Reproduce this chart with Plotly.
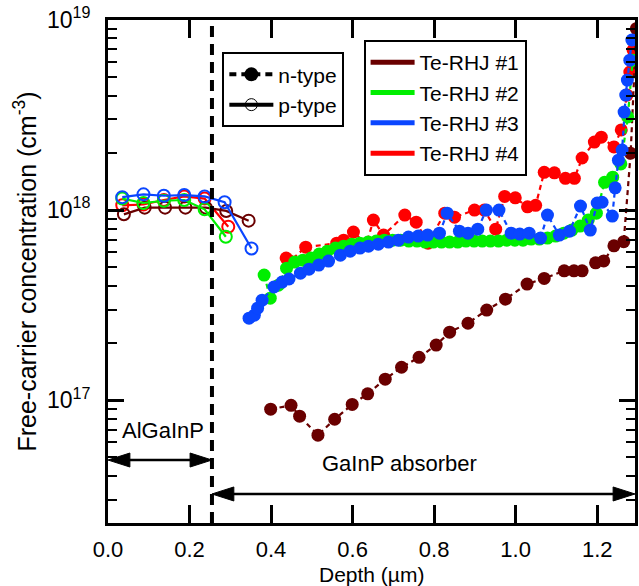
import plotly.graph_objects as go

FONT = "Arial, Liberation Sans, sans-serif"

SAMPLES = ["Te-RHJ #1", "Te-RHJ #2", "Te-RHJ #3", "Te-RHJ #4"]
COLORS = ["#6a0000", "#00ee00", "#0a46ff", "#ff0000"]

# ---- p-type profiles (AlGaInP window side), depth in um, carriers in cm^-3
p_depth_1 = [0.039, 0.090, 0.140, 0.190, 0.240, 0.290, 0.345]
p_conc_1 = [9.5e17, 1.03e18, 1.03e18, 1.03e18, 1.03e18, 9.9e17, 8.8e17]
p_depth_2 = [0.035, 0.087, 0.137, 0.187, 0.237, 0.289]
p_conc_2 = [1.15e18, 1.09e18, 1.12e18, 1.13e18, 1.01e18, 7.24e17]
p_depth_3 = [0.035, 0.087, 0.137, 0.187, 0.237, 0.286, 0.352]
p_conc_3 = [1.17e18, 1.21e18, 1.19e18, 1.20e18, 1.18e18, 1.10e18, 6.28e17]
p_depth_4 = [0.035, 0.087, 0.137, 0.187, 0.237, 0.295]
p_conc_4 = [1.06e18, 1.07e18, 1.13e18, 1.18e18, 1.15e18, 8.17e17]

# ---- n-type profiles (GaInP absorber side)
n_depth_1 = [0.399, 0.449, 0.470, 0.515, 0.556, 0.599, 0.637, 0.680, 0.720,
             0.763, 0.805, 0.838, 0.883, 0.929, 0.975, 1.028, 1.070, 1.119,
             1.143, 1.163, 1.196, 1.216, 1.241, 1.265, 1.282, 1.296]
n_conc_1 = [8.97e16, 9.4e16, 8.24e16, 6.55e16, 7.94e16, 9.5e16, 1.08e17, 1.29e17,
            1.49e17, 1.68e17, 1.95e17, 2.28e17, 2.54e17, 2.98e17, 3.4e17, 4.08e17,
            4.37e17, 4.79e17, 4.79e17, 4.79e17, 5.28e17, 5.4e17, 6.49e17, 6.82e17,
            1.99e18, 9.0e18]

n_depth_2 = [0.383, 0.398, 0.418, 0.438, 0.458, 0.478, 0.498, 0.518, 0.538,
             0.558, 0.578, 0.598, 0.618, 0.638, 0.658, 0.678, 0.698, 0.718,
             0.738, 0.758, 0.778, 0.798, 0.818, 0.838, 0.858, 0.878, 0.898,
             0.918, 0.938, 0.958, 0.978, 0.998, 1.018, 1.038, 1.058, 1.078,
             1.098, 1.118, 1.138, 1.158, 1.178, 1.198, 1.218, 1.238, 1.258,
             1.275, 1.287]
n_conc_2 = [4.55e17, 3.44e17, 4.03e17, 4.95e17, 5.33e17, 5.45e17, 5.59e17, 5.87e17,
            6.08e17, 6.31e17, 6.46e17, 6.62e17, 6.7e17, 6.79e17, 6.87e17, 6.95e17,
            6.95e17, 6.95e17, 6.87e17, 6.87e17, 6.79e17, 6.79e17, 6.79e17, 6.79e17,
            6.79e17, 6.87e17, 6.87e17, 6.87e17, 6.87e17, 6.87e17, 6.95e17, 6.95e17,
            6.95e17, 7.04e17, 7.04e17, 7.13e17, 7.3e17, 7.56e17, 7.85e17, 8.24e17,
            8.86e17, 9.64e17, 1.40e18, 1.49e18, 1.75e18, 3.09e18, 6.15e18]

n_depth_3 = [0.346, 0.359, 0.367, 0.378, 0.407, 0.427, 0.444, 0.472, 0.493,
             0.517, 0.541, 0.570, 0.594, 0.618, 0.639, 0.663, 0.688, 0.712,
             0.737, 0.761, 0.784, 0.813, 0.832, 0.862, 0.883, 0.907, 0.928,
             0.959, 0.989, 1.010, 1.033, 1.061, 1.078, 1.107, 1.132, 1.159,
             1.183, 1.200, 1.212, 1.237, 1.244, 1.252, 1.261, 1.266, 1.270,
             1.274, 1.280, 1.285]
n_conc_3 = [2.7e17, 2.8e17, 3.05e17, 3.36e17, 3.94e17, 4.18e17, 4.34e17, 4.66e17,
            4.89e17, 5.14e17, 5.39e17, 5.79e17, 6.08e17, 6.31e17, 6.46e17, 6.62e17,
            6.79e17, 6.95e17, 7.21e17, 7.3e17, 7.39e17, 7.56e17, 9.64e17, 7.75e17,
            7.56e17, 7.94e17, 1.0e18, 1.0e18, 7.56e17, 7.48e17, 7.56e17, 7.13e17,
            9.41e17, 7.39e17, 7.75e17, 1.05e18, 7.85e17, 1.09e18, 1.10e18, 9.3e17,
            1.31e18, 1.83e18, 2.07e18, 3.28e18, 4.03e18, 4.83e18, 6.15e18, 7.85e18]

n_depth_4 = [0.437, 0.446, 0.485, 0.561, 0.578, 0.602, 0.634, 0.651, 0.676,
             0.728, 0.756, 0.785, 0.826, 0.850, 0.899, 0.923, 0.951, 0.973,
             0.999, 1.029, 1.049, 1.070, 1.095, 1.122, 1.144, 1.163, 1.193,
             1.210, 1.241, 1.259, 1.273, 1.280, 1.288]
n_conc_4 = [5.59e17, 5.39e17, 6.38e17, 6.7e17, 6.95e17, 7.66e17, 6.62e17, 8.86e17,
            7.39e17, 9.41e17, 8.64e17, 6.7e17, 9.64e17, 9.18e17, 1.0e18, 1.0e18,
            7.94e17, 1.18e18, 1.16e18, 1.04e18, 1.06e18, 1.58e18, 1.57e18, 1.47e18,
            1.47e18, 1.88e18, 2.28e18, 2.42e18, 2.15e18, 2.64e18, 4.03e18, 5.32e18,
            6.95e18]

P_DEPTH = [p_depth_1, p_depth_2, p_depth_3, p_depth_4]
P_CONC = [p_conc_1, p_conc_2, p_conc_3, p_conc_4]
N_DEPTH = [n_depth_1, n_depth_2, n_depth_3, n_depth_4]
N_CONC = [n_conc_1, n_conc_2, n_conc_3, n_conc_4]

INTERFACE = 0.255          # AlGaInP / GaInP interface depth (um)
X_MAX = 1.2927
Y_LOG_RANGE = [16.354, 19.0]

fig = go.Figure()

# p-type: open circles, solid lines
for i in [3, 0, 1, 2]:
    fig.add_trace(go.Scatter(
        x=P_DEPTH[i], y=P_CONC[i], mode="lines+markers", showlegend=False,
        line=dict(color=COLORS[i], width=2.2),
        marker=dict(symbol="circle-open", size=12, color=COLORS[i],
                    line=dict(width=2, color=COLORS[i])),
    ))

# n-type: filled circles, dashed lines
for i in [3, 0, 1, 2]:
    fig.add_trace(go.Scatter(
        x=N_DEPTH[i], y=N_CONC[i], mode="lines+markers", showlegend=False,
        line=dict(color=COLORS[i], width=2.2, dash="5px,4px"),
        marker=dict(symbol="circle", size=13, color=COLORS[i],
                    line=dict(width=0)),
    ))

# carrier-type key
fig.add_trace(go.Scatter(
    x=[None], y=[None], mode="lines+markers", name="n-type", legend="legend",
    line=dict(color="black", width=4, dash="7px,5px"),
    marker=dict(symbol="circle", size=14, color="black"),
))
fig.add_trace(go.Scatter(
    x=[None], y=[None], mode="lines+markers", name="p-type", legend="legend",
    line=dict(color="black", width=4),
    marker=dict(symbol="circle-open", size=12, color="black",
                line=dict(width=1, color="black")),
))

# sample key
for name, color in zip(SAMPLES, COLORS):
    fig.add_trace(go.Scatter(
        x=[None], y=[None], mode="lines", name=name, legend="legend2",
        line=dict(color=color, width=5),
    ))

# interface marker
fig.add_shape(type="line", xref="x", yref="paper", x0=INTERFACE, x1=INTERFACE,
              y0=0, y1=1, line=dict(color="black", width=4, dash="11px,7px"))


def double_arrow(x0, x1, yp):
    """Horizontal double-headed arrow in data x / paper y coordinates."""
    head_len = 22 / 410.0
    head_half = 7 / 503.0
    fig.add_shape(type="line", xref="x", yref="paper", x0=x0 + head_len * 0.5,
                  x1=x1 - head_len * 0.5, y0=yp, y1=yp,
                  line=dict(color="black", width=2.5))
    for tip, base in ((x0, x0 + head_len), (x1, x1 - head_len)):
        fig.add_shape(type="path", xref="x", yref="paper",
                      path=f"M {tip} {yp} L {base} {yp + head_half} "
                           f"L {base} {yp - head_half} Z",
                      fillcolor="black", line=dict(color="black", width=1))


double_arrow(0.0, INTERFACE, 0.1252)
double_arrow(INTERFACE, X_MAX, 0.0577)

fig.add_annotation(x=0.135, y=0.155, xref="x", yref="paper", text="AlGaInP",
                   showarrow=False, font=dict(size=22, family=FONT, color="black"))
fig.add_annotation(x=0.715, y=0.0895, xref="x", yref="paper", text="GaInP absorber",
                   showarrow=False, font=dict(size=22, family=FONT, color="black"))

# x-axis title placed just under the tick labels
fig.add_annotation(x=0.5, y=-0.1014, xref="paper", yref="paper", yanchor="middle",
                   text="Depth (µm)", showarrow=False, borderpad=0,
                   font=dict(size=21, family=FONT, color="black"))

minor_vals = [m * 10.0 ** e for e in (16, 17, 18) for m in range(2, 10)]

fig.update_xaxes(
    range=[0, X_MAX], dtick=0.2, tick0=0, tickformat=".1f",
    showline=True, linewidth=3, linecolor="black", mirror="allticks",
    ticks="inside", ticklen=18, tickwidth=2.5, tickcolor="black",
    showgrid=False, zeroline=False, ticklabelstandoff=5,
    tickfont=dict(size=22, family=FONT, color="black"),
)
fig.update_yaxes(
    type="log", range=Y_LOG_RANGE,
    tickmode="array", tickvals=[1e17, 1e18, 1e19],
    ticktext=["10<sup>17</sup>", "10<sup>18</sup>", "10<sup>19</sup>"],
    showline=True, linewidth=3, linecolor="black", mirror="allticks",
    ticks="inside", ticklen=16, tickwidth=2.5, tickcolor="black",
    minor=dict(tickvals=minor_vals, ticks="inside", ticklen=9, tickwidth=2,
               tickcolor="black", showgrid=False),
    showgrid=False, zeroline=False, ticklabelstandoff=10,
    tickfont=dict(size=23, family=FONT, color="black"),
    title=dict(text="Free-carrier concentration (cm<sup>-3</sup>)",
               font=dict(size=25, family=FONT, color="black"), standoff=4),
)

fig.update_layout(
    width=639, height=586,
    margin=dict(l=108, r=1, t=20, b=63),
    plot_bgcolor="white", paper_bgcolor="white",
    font=dict(family=FONT, size=22, color="black"),
    showlegend=True,
    legend=dict(x=0.217, y=0.936, xanchor="left", yanchor="top",
                bgcolor="white", bordercolor="black", borderwidth=2,
                font=dict(size=21, family=FONT, color="black"),
                tracegroupgap=0, itemwidth=44),
    legend2=dict(x=0.485, y=0.96, xanchor="left", yanchor="top",
                 bgcolor="white", bordercolor="black", borderwidth=2,
                 font=dict(size=21, family=FONT, color="black"),
                 tracegroupgap=0, itemwidth=44),
)

fig.write_html("out.html")
